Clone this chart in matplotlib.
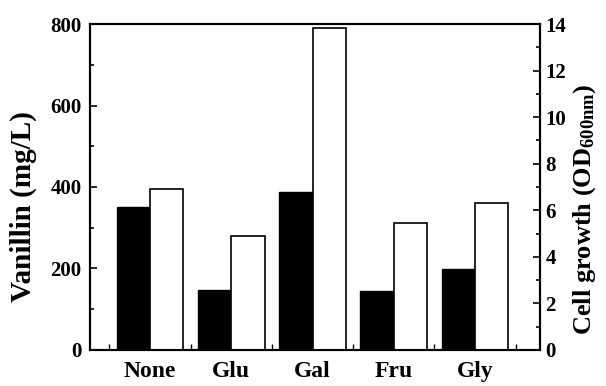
import matplotlib
matplotlib.use("Agg")
import matplotlib.pyplot as plt
import numpy as np
from matplotlib.ticker import MultipleLocator

# Datos
carbon = ["None", "Glu", "Gal", "Fru", "Gly"]
vanillin = [350, 146, 388, 145, 198]      # mg/L
cell_growth = [6.9, 4.9, 13.85, 5.45, 6.3]  # OD600nm

plt.rcParams["font.family"] = ["Liberation Serif", "DejaVu Serif"]
plt.rcParams["font.weight"] = "bold"
plt.rcParams["mathtext.fontset"] = "custom"
plt.rcParams["mathtext.rm"] = "Liberation Serif:bold"
plt.rcParams["mathtext.it"] = "Liberation Serif:bold"
plt.rcParams["mathtext.bf"] = "Liberation Serif:bold"

x = np.arange(len(carbon))
w = 0.41

fig = plt.figure(figsize=(6.06, 3.86), dpi=100)
ax = fig.add_axes([0.1485, 0.0933, 0.7425, 0.8445])
ax2 = ax.twinx()

ax.bar(x - w / 2, vanillin, w, color="black", edgecolor="black", lw=1)
ax2.bar(x + w / 2, cell_growth, w, color="white", edgecolor="black", lw=1.2)

ax.set_xlim(-0.74, 4.8)
ax.set_ylim(0, 800)
ax2.set_ylim(0, 14)

# eje x: etiquetas sin marca, marcas cortas entre grupos
ax.set_xticks(x)
ax.set_xticklabels(carbon, fontsize=17, fontweight="bold")
ax.tick_params(axis="x", length=0, pad=8)
ax.set_xticks(np.arange(-0.5, 5, 1), minor=True)
ax.tick_params(axis="x", which="minor", direction="in", length=4, width=1)

ax.yaxis.set_major_locator(MultipleLocator(200))
ax.yaxis.set_minor_locator(MultipleLocator(100))
ax.tick_params(axis="y", which="both", direction="in", labelsize=15, width=1.2)
ax.tick_params(axis="y", which="major", length=5, pad=6)
ax.tick_params(axis="y", which="minor", length=3)

ax2.yaxis.set_major_locator(MultipleLocator(2))
ax2.yaxis.set_minor_locator(MultipleLocator(1))
ax2.tick_params(axis="y", which="both", direction="in", labelsize=15, width=1.2)
ax2.tick_params(axis="y", which="major", length=5, pad=4)
ax2.tick_params(axis="y", which="minor", length=3)

for a in (ax, ax2):
    for s in a.spines.values():
        s.set_linewidth(1.5)
    for lab in a.get_yticklabels():
        lab.set_fontweight("bold")

ax.set_ylabel("Vanillin (mg/L)", fontsize=21, fontweight="bold")
ax.yaxis.set_label_coords(-0.118, 0.44)
ax2.set_ylabel(r"Cell growth (OD$_{\mathregular{600nm}}$)", fontsize=19,
               fontweight="bold", rotation=90)
ax2.yaxis.set_label_coords(1.07, 0.43)

fig.savefig("out.png", dpi=100)
